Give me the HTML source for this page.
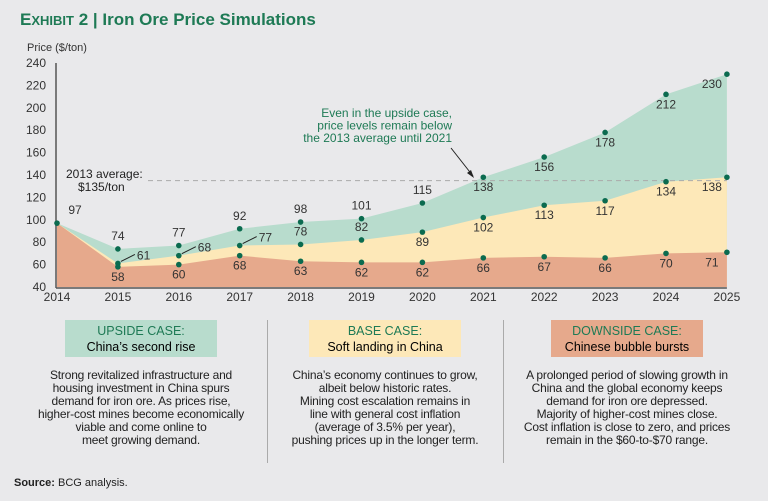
<!DOCTYPE html>
<html><head><meta charset="utf-8"><style>
body{margin:0;background:#e9e9eb;font-family:"Liberation Sans",sans-serif;}
#wrap{position:relative;width:768px;height:501px;overflow:hidden;background:#e9e9eb;}
.t{position:absolute;}
.box{position:absolute;top:320px;height:37px;width:152px;text-align:center;font-size:12.5px;line-height:16px;padding-top:3px;box-sizing:border-box;}
.box b{font-weight:normal;color:#1e7a55;display:block;}
.desc{position:absolute;top:369px;width:250px;text-align:center;font-size:12px;line-height:12.9px;color:#222;white-space:nowrap;letter-spacing:-0.2px;}
.div{position:absolute;top:320px;height:143px;width:1px;background:#aaa;}
</style></head><body>
<div id="wrap">
<div class="t" style="left:20px;top:10px;font-size:17px;font-weight:bold;color:#1e7a55;">E<span style="font-size:13px">XHIBIT</span> 2 | Iron Ore Price Simulations</div>
<svg id="svg" width="768" height="310" style="position:absolute;left:0;top:0"></svg>
<div class="box" style="left:65px;background:#b8dccd;"><b>UPSIDE CASE:</b>China’s second rise</div>
<div class="box" style="left:309px;background:#fde8b8;"><b>BASE CASE:</b>Soft landing in China</div>
<div class="box" style="left:551px;background:#e6a98c;"><b>DOWNSIDE CASE:</b>Chinese bubble bursts</div>
<div class="div" style="left:267px"></div>
<div class="div" style="left:503px"></div>
<div class="desc" style="left:16px">Strong revitalized infrastructure and<br>housing investment in China spurs<br>demand for iron ore. As prices rise,<br>higher-cost mines become economically<br>viable and come online to<br>meet growing demand.</div>
<div class="desc" style="left:260px">China’s economy continues to grow,<br>albeit below historic rates.<br>Mining cost escalation remains in<br>line with general cost inflation<br>(average of 3.5% per year),<br>pushing prices up in the longer term.</div>
<div class="desc" style="left:502px">A prolonged period of slowing growth in<br>China and the global economy keeps<br>demand for iron ore depressed.<br>Majority of higher-cost mines close.<br>Cost inflation is close to zero, and prices<br>remain in the $60-to-$70 range.</div>
<div class="t" style="left:14px;top:477px;font-size:11px;color:#222;"><b>Source:</b> BCG analysis.</div>
</div>
<script>
const years=["2014","2015","2016","2017","2018","2019","2020","2021","2022","2023","2024","2025"];
const upside=[97,74,77,92,98,101,115,138,156,178,212,230];
const base=[97,61,68,77,78,82,89,102,113,117,134,138];
const down=[97,58,60,68,63,62,62,66,67,66,70,71];
const yTicks=[40,60,80,100,120,140,160,180,200,220,240];
const avg2013=135;
const svg=document.getElementById('svg');const NS='http://www.w3.org/2000/svg';
const X=i=>57+i*60.9, Y=v=>287-(v-40)*1.12;
function mk(t,a,n){const e=document.createElementNS(NS,t);for(const k in a)e.setAttribute(k,a[k]);svg.appendChild(e);return e;}
function area(vals,col,n){let d='M'+X(0)+','+Y(40);vals.forEach((v,i)=>d+='L'+X(i)+','+Y(v));d+='L'+X(vals.length-1)+','+Y(40)+'Z';const e=mk('path',{d:d,fill:col});

}
area(upside,'#b8dccd','upside-area');area(base,'#fde8b8','base-area');area(down,'#e6a98c','downside-area');
const dl=mk('line',{x1:148,x2:X(11),y1:Y(avg2013),y2:Y(avg2013),stroke:'#aaa','stroke-dasharray':'5,4','stroke-width':1});


mk('line',{x1:56,x2:56,y1:63,y2:288,stroke:'#555','stroke-width':1.5});
mk('line',{x1:56,x2:X(11),y1:288,y2:288,stroke:'#555','stroke-width':1.5});
function txt(x,y,s,o){const e=mk('text',Object.assign({x:x,y:y,'font-size':12,fill:'#333','font-family':'Liberation Sans, sans-serif'},o||{}));e.textContent=s;return e;}
yTicks.forEach(v=>{const e=txt(46,Y(v)+4,v,{'text-anchor':'end'});

});
years.forEach((s,i)=>{const e=txt(X(i),301,s,{'text-anchor':'middle'});

});
const yt=txt(27,51,'Price ($/ton)',{'font-size':11});


txt(66,178,'2013 average:',{'font-size':12,fill:'#222'});txt(78,191,'$135/ton',{'font-size':12,fill:'#222'});
['Even in the upside case,','price levels remain below','the 2013 average until 2021'].forEach((s,k)=>txt(452,117+k*12.5,s,{'text-anchor':'end','font-size':12,fill:'#1e7a55'}));
mk('line',{x1:451,y1:148,x2:473,y2:176,stroke:'#222','stroke-width':1});
mk('path',{d:'M474,178 L467,173 L471,170Z',fill:'#222'});
function dots(vals,name,pos){vals.forEach((v,i)=>{if(i==0&&name!='upside')return;const c=mk('circle',{cx:X(i),cy:Y(v),r:2.8,fill:'#0b6b4f'});


const p=pos(i);
if(p=='r'){mk('line',{x1:X(i)+3,y1:Y(v)-2,x2:X(i)+17,y2:Y(v)-9,stroke:'#222','stroke-width':1});txt(X(i)+19,Y(v)-4,v);}
else{const dx=(i==11)?-15:(i==0?10:0);txt(X(i)+dx+(i==0?18:0)-(i==0?10:0),p=='a'?Y(v)-9:Y(v)+14,v,{'text-anchor':'middle'});}});}
dots(upside,'upside',i=>i<7?'a':'b');
dots(base,'base',i=>i<=3?'r':(i<=5?'a':'b'));
dots(down,'downside',i=>i==3?'b':'b');
</script></body></html>
